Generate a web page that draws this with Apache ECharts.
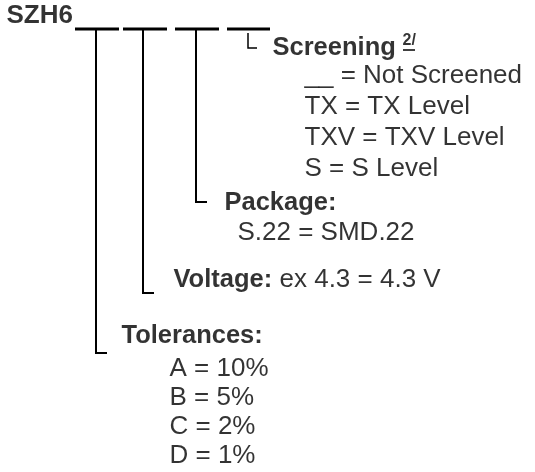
<!DOCTYPE html>
<html>
<head>
<meta charset="utf-8">
<script src="https://cdn.jsdelivr.net/npm/echarts@6/dist/echarts.min.js"></script>
<style>
  html, body { margin: 0; background: #fff; }
  #chart { width: 535px; height: 472px; }
</style>
</head>
<body>
<div id="chart"></div>
<script>
// part number and code tables
const prefix = 'SZH6'
const screeningTitle = 'Screening'
const screeningNote = '2/'
const screeningCodes = ['__ = Not Screened', 'TX = TX Level', 'TXV = TXV Level', 'S = S Level']
const packageTitle = 'Package:'
const packageCodes = ['S.22 = SMD.22']
const voltageTitle = 'Voltage:'
const voltageCodes = ['ex 4.3 = 4.3 V']
const toleranceTitle = 'Tolerances:'
const toleranceCodes = ['A = 10%', 'B = 5%', 'C = 2%', 'D = 1%']

// layout, in pixels of the diagram
const slotX = [[75, 119], [123, 167], [175, 219], [227, 270]]
const slotY = 29
const leaderX = [96, 143, 196]
const leaderEnd = [353, 293, 202]
const footLen = 11
const screeningMark = [[248, 33], [248, 48], [257, 48]]
const noteLine = [[403, 50], [415, 50]]
const screeningRows = [85, 116, 147, 178]
const packageRows = [242]
const toleranceRows = [378, 407, 436, 465]

const FONT = "'Liberation Sans', Arial, sans-serif"
const BOLD = 25.5
const REG = 26

// text item at a baseline
const txt = (text, x, base, size, bold) => ({
  value: [x, base - 0.35 * size],
  label: {
    formatter: text,
    fontSize: size,
    fontWeight: bold ? 'bold' : 'normal'
  }
})

const texts = [
  txt(prefix, 7, 25, 26, true),
  txt(screeningTitle, 273, 57, BOLD, true),
  txt(screeningNote, 403, 47, 16, true),
  ...screeningCodes.map((t, i) => txt(t, 305, screeningRows[i], REG, false)),
  txt(packageTitle, 225, 212, BOLD, true),
  ...packageCodes.map((t, i) => txt(t, 238, packageRows[i], REG, false)),
  txt(voltageTitle, 174, 289, BOLD, true),
  txt(voltageCodes[0], 280, 289, REG, false),
  txt(toleranceTitle, 122, 345, BOLD, true),
  ...toleranceCodes.map((t, i) => txt(t, 170, toleranceRows[i], REG, false))
]

const leaders = leaderX.map((x, i) => ({
  coords: [[x, slotY + 1], [x, leaderEnd[i]], [x + footLen, leaderEnd[i]]]
}))

const chart = echarts.init(document.getElementById('chart'))
chart.setOption({
  animation: false,
  grid: { left: 0, right: 0, top: 0, bottom: 0 },
  xAxis: { type: 'value', min: 0, max: 535, show: false },
  yAxis: { type: 'value', min: 0, max: 472, inverse: true, show: false },
  series: [
    {
      type: 'lines',
      coordinateSystem: 'cartesian2d',
      polyline: true,
      lineStyle: { color: '#000', width: 3, opacity: 1 },
      data: slotX.map(s => ({ coords: [[s[0], slotY], [s[1], slotY]] }))
    },
    {
      type: 'lines',
      coordinateSystem: 'cartesian2d',
      polyline: true,
      lineStyle: { color: '#000', width: 2, opacity: 1 },
      data: leaders
    },
    {
      type: 'lines',
      coordinateSystem: 'cartesian2d',
      polyline: true,
      lineStyle: { color: '#000', width: 1.5, opacity: 1 },
      data: [{ coords: screeningMark }, { coords: noteLine }]
    },
    {
      type: 'scatter',
      symbolSize: 1,
      itemStyle: { color: 'rgba(0,0,0,0)' },
      label: {
        show: true,
        position: [0, 0],
        align: 'left',
        verticalAlign: 'middle',
        color: '#000',
        fontFamily: FONT
      },
      data: texts
    }
  ]
})
</script>
</body>
</html>
